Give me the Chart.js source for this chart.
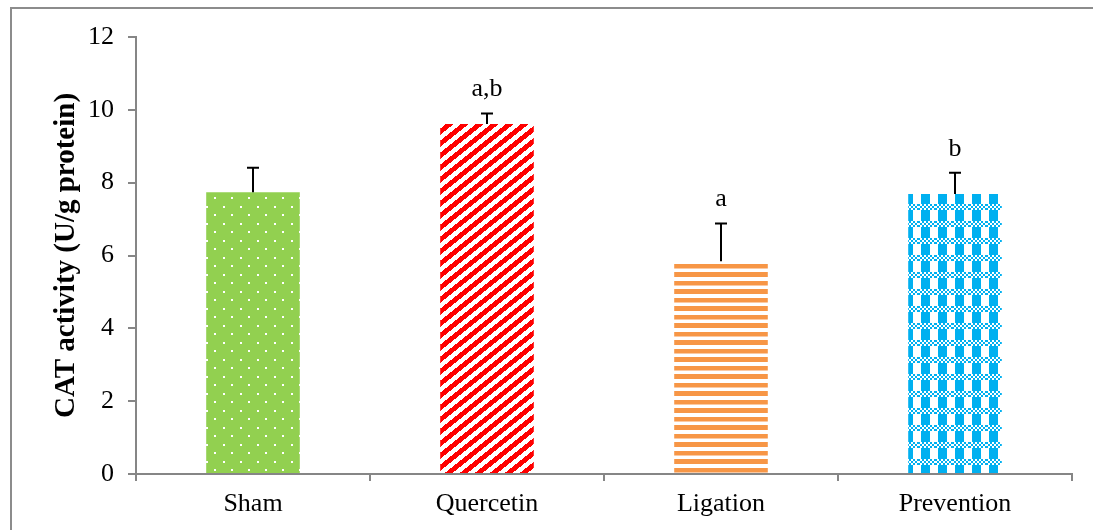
<!DOCTYPE html>
<html>
<head>
<meta charset="utf-8">
<script src="https://cdn.jsdelivr.net/npm/chart.js@4/dist/chart.umd.min.js"></script>
<style>
    html, body { margin: 0; padding: 0; background: #fff; overflow: hidden; }
    #wrap { position: relative; width: 1093px; height: 530px; }
    #frame { position: absolute; left: 10px; top: 7px; width: 1100px; height: 540px; border: 2px solid #8c8c8c; box-sizing: border-box; }
    #chart { position: absolute; left: 0; top: 0; }
</style>
</head>
<body>
<div id="wrap">
    <div id="frame"></div>
    <canvas id="chart" width="1093" height="530"></canvas>
</div>
<script>
const groups = ['Sham', 'Quercetin', 'Ligation', 'Prevention'];
const catValues = [7.74, 9.61, 5.84, 7.69];
const catErrors = [0.67, 0.29, 1.04, 0.58];
const sigLabels = ['', 'a,b', 'a', 'b'];
const yTicks = [0, 2, 4, 6, 8, 10, 12];

const serif = "'Liberation Serif', 'Times New Roman', serif";

function makePattern(w, h, draw) {
    const c = document.createElement('canvas');
    c.width = w;
    c.height = h;
    const g = c.getContext('2d');
    draw(g, w, h);
    return g.createPattern(c, 'repeat');
}

const ctx = document.getElementById('chart').getContext('2d');

// green with white dots
const dotsPattern = makePattern(17, 17, (g, w, h) => {
    g.fillStyle = '#92d050';
    g.fillRect(0, 0, w, h);
    g.fillStyle = '#ffffff';
    g.fillRect(2, 2, 2, 2);
    g.fillRect(10, 10, 2, 2);
});

// red diagonal stripes, pixel by pixel so the tile joins cleanly
const diagPattern = makePattern(15, 12, (g, w, h) => {
    g.fillStyle = '#ffffff';
    g.fillRect(0, 0, w, h);
    g.fillStyle = '#ff0000';
    for (let y = 0; y < h; y++) {
        for (let x = 0; x < w; x++) {
            if ((x * h + y * w) % (w * h) < 92) g.fillRect(x, y, 1, 1);
        }
    }
});

// orange horizontal stripes
const hStripePattern = makePattern(4, 17, (g, w, h) => {
    g.fillStyle = '#ffffff';
    g.fillRect(0, 0, w, h);
    g.fillStyle = '#f79646';
    g.fillRect(0, 0, w, 5);
    g.fillRect(0, 9, w, 4);
    g.fillStyle = '#fbc9a2';
    g.fillRect(0, 13, w, 1);
});

// blue plaid
const plaidPattern = makePattern(17, 17, (g, w, h) => {
    g.fillStyle = '#ffffff';
    g.fillRect(0, 0, w, h);
    g.fillStyle = '#00b0f0';
    for (let y = 0; y < 6; y += 2) {
        for (let x = (y / 2) % 2 === 0 ? 0 : 2; x < w; x += 4) {
            g.fillRect(x, y, 2, 2);
        }
    }
    g.fillRect(3, 6, 9, 11);
});

const errorBars = {
    id: 'errorBars',
    afterDatasetsDraw(chart) {
        const meta = chart.getDatasetMeta(0);
        const yScale = chart.scales.y;
        const c = chart.ctx;
        c.save();
        c.strokeStyle = '#000';
        c.lineWidth = 2;
        c.fillStyle = '#000';
        c.font = '26px ' + serif;
        c.textAlign = 'center';
        c.textBaseline = 'middle';
        meta.data.forEach((bar, i) => {
            const yTop = yScale.getPixelForValue(catValues[i] + catErrors[i]);
            const yBase = yScale.getPixelForValue(catValues[i]);
            c.beginPath();
            c.moveTo(bar.x, yBase);
            c.lineTo(bar.x, yTop);
            c.moveTo(bar.x - 6, yTop);
            c.lineTo(bar.x + 6, yTop);
            c.stroke();
            if (sigLabels[i]) {
                c.fillText(sigLabels[i], bar.x, yTop - 24);
            }
        });
        c.restore();
    }
};

const chart = new Chart(ctx, {
    type: 'bar',
    data: {
        labels: groups,
        datasets: [{
            label: 'CAT activity',
            data: catValues,
            backgroundColor: [dotsPattern, diagPattern, hStripePattern, plaidPattern],
            borderWidth: 0,
            barPercentage: 0.40,
            categoryPercentage: 1.0
        }]
    },
    options: {
        responsive: false,
        animation: false,
        events: [],
        layout: { padding: { top: 37, right: 21, left: 0, bottom: 0 } },
        plugins: {
            legend: { display: false },
            tooltip: { enabled: false }
        },
        scales: {
            x: {
                grid: {
                    offset: true,
                    drawOnChartArea: false,
                    drawTicks: true,
                    tickLength: 7,
                    color: '#868686',
                    lineWidth: 2
                },
                border: { color: '#868686', width: 2 },
                ticks: {
                    color: '#000',
                    font: { family: serif, size: 26 },
                    padding: 8
                },
                afterFit(scale) { scale.height = 56; }
            },
            y: {
                min: 0,
                max: 12,
                afterBuildTicks(scale) {
                    scale.ticks = yTicks.map(v => ({ value: v }));
                },
                grid: {
                    drawOnChartArea: false,
                    drawTicks: true,
                    tickLength: 8,
                    color: '#868686',
                    lineWidth: 2
                },
                border: { color: '#868686', width: 2 },
                ticks: {
                    color: '#000',
                    font: { family: serif, size: 26 },
                    padding: 14
                },
                title: {
                    display: true,
                    text: 'CAT activity (U/g protein)',
                    color: '#000',
                    font: { family: serif, size: 29, weight: 'bold' },
                    padding: { top: 49, bottom: 0 }
                },
                afterFit(scale) { scale.width = 136; }
            }
        }
    },
    plugins: [errorBars]
});
</script>
</body>
</html>
